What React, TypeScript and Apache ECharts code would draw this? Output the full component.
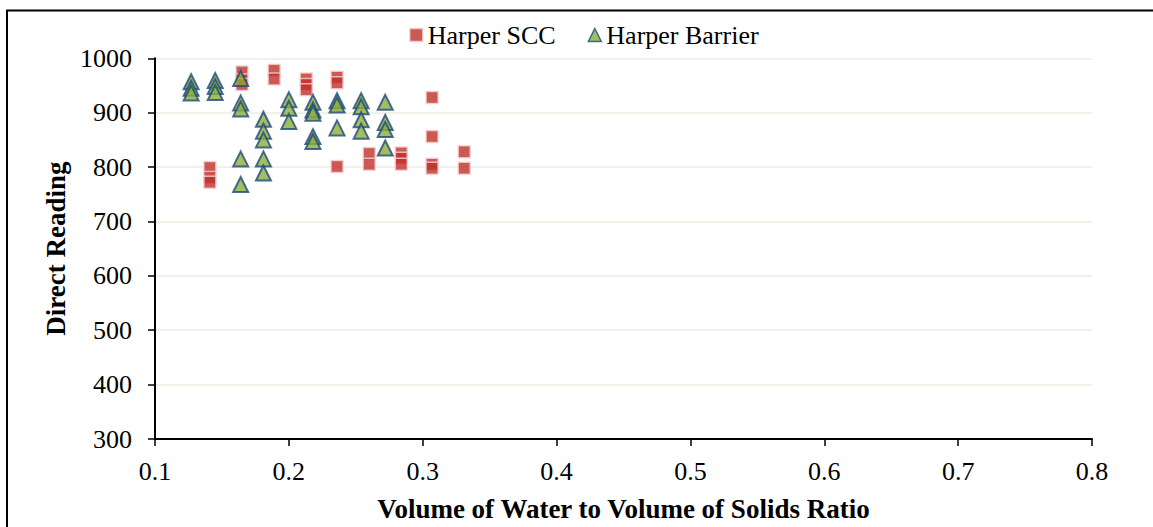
import React, { useEffect, useRef } from "react";
import * as echarts from "echarts";

const sccX = [0.141, 0.141, 0.141, 0.165, 0.165, 0.165, 0.189, 0.189, 0.213, 0.213, 0.213, 0.236, 0.236, 0.236, 0.26, 0.26, 0.284, 0.284, 0.284, 0.307, 0.307, 0.307, 0.307, 0.331, 0.331];
const sccY = [799, 781, 772, 975, 960, 952, 978, 962, 962, 952, 942, 965, 955, 801, 825, 805, 826, 816, 805, 928, 856, 805, 798, 828, 798];

const barrierX = [0.127, 0.127, 0.127, 0.145, 0.145, 0.145, 0.164, 0.164, 0.164, 0.164, 0.164, 0.181, 0.181, 0.181, 0.181, 0.181, 0.2, 0.2, 0.2, 0.218, 0.218, 0.218, 0.218, 0.218, 0.236, 0.236, 0.236, 0.254, 0.254, 0.254, 0.254, 0.272, 0.272, 0.272, 0.272];
const barrierY = [957, 945, 936, 959, 948, 937, 963, 918, 907, 815, 768, 888, 866, 850, 815, 789, 924, 908, 884, 919, 905, 899, 856, 847, 922, 914, 872, 922, 911, 887, 866, 919, 882, 869, 835];

const xTicks = [0.1, 0.8, 0.1];
const yTicks = [300, 1000, 100];

const FONT = "Liberation Serif";
const FS = 26;

export default function App() {
  const ref = useRef<HTMLDivElement>(null);
  useEffect(() => {
    if (!ref.current) return;
    const chart = echarts.init(ref.current, null, { renderer: "svg" });
    const scc = sccX.map((x, i) => [x, sccY[i]]);
    const barrier = barrierX.map((x, i) => [x, barrierY[i]]);
    chart.setOption({
      animation: false,
      backgroundColor: "#ffffff",
      textStyle: { fontFamily: FONT },
      graphic: [
        {
          type: "rect",
          shape: { x: 7, y: 10.5, width: 1200, height: 600 },
          style: { fill: "none", stroke: "#000", lineWidth: 2 },
          silent: true,
        },
      ],
      legend: {
        top: 17,
        left: 404,
        itemGap: 32,
        itemWidth: 13,
        itemHeight: 13,
        itemStyle: { borderWidth: 1.5 },
        textStyle: { fontFamily: FONT, fontSize: FS, color: "#000", padding: [0, 0, 0, 0] },
        data: ["Harper SCC", "Harper Barrier"],
      },
      grid: { left: 155, right: 61, top: 58.3, bottom: 87, containLabel: false },
      xAxis: {
        type: "value",
        min: xTicks[0],
        max: xTicks[1],
        interval: xTicks[2],
        name: "Volume of Water to Volume of Solids Ratio",
        nameLocation: "middle",
        nameGap: 56,
        nameTextStyle: { fontFamily: FONT, fontSize: 27, fontWeight: "bold", color: "#000" },
        axisLine: { show: true, lineStyle: { color: "#000", width: 2 } },
        axisTick: { show: true, length: 7, lineStyle: { color: "#000", width: 1.5 } },
        axisLabel: { fontFamily: FONT, fontSize: FS, color: "#000", margin: 19, formatter: (v: number) => String(Math.round(v * 10) / 10) },
        splitLine: { show: false },
      },
      yAxis: {
        type: "value",
        min: yTicks[0],
        max: yTicks[1],
        interval: yTicks[2],
        name: "Direct Reading",
        nameLocation: "middle",
        nameRotate: 90,
        nameGap: 72,
        nameTextStyle: { fontFamily: FONT, fontSize: 27, fontWeight: "bold", color: "#000" },
        axisLine: { show: true, lineStyle: { color: "#000", width: 2 } },
        axisTick: { show: true, length: 7, lineStyle: { color: "#000", width: 1.5 } },
        axisLabel: { fontFamily: FONT, fontSize: FS, color: "#000", margin: 23, formatter: (v: number) => String(v) },
        splitLine: { show: true, lineStyle: { color: "#EEECE1", width: 1.5 } },
      },
      series: [
        {
          name: "Harper SCC",
          type: "scatter",
          symbol: "rect",
          symbolSize: 12,
          data: scc,
          itemStyle: { color: "#C0302B", borderColor: "#F6D2D2", borderWidth: 1.5 },
        },
        {
          name: "Harper Barrier",
          type: "scatter",
          symbol: "triangle",
          symbolSize: 15,
          data: barrier,
          itemStyle: { color: "#8AAE3A", borderColor: "#1F4A7C", borderWidth: 2 },
        },
      ],
    });
    return () => chart.dispose();
  }, []);
  return (
    <div
      ref={ref}
      style={{ position: "fixed", left: 0, top: 0, width: 1153, height: 527, background: "#fff" }}
    />
  );
}
